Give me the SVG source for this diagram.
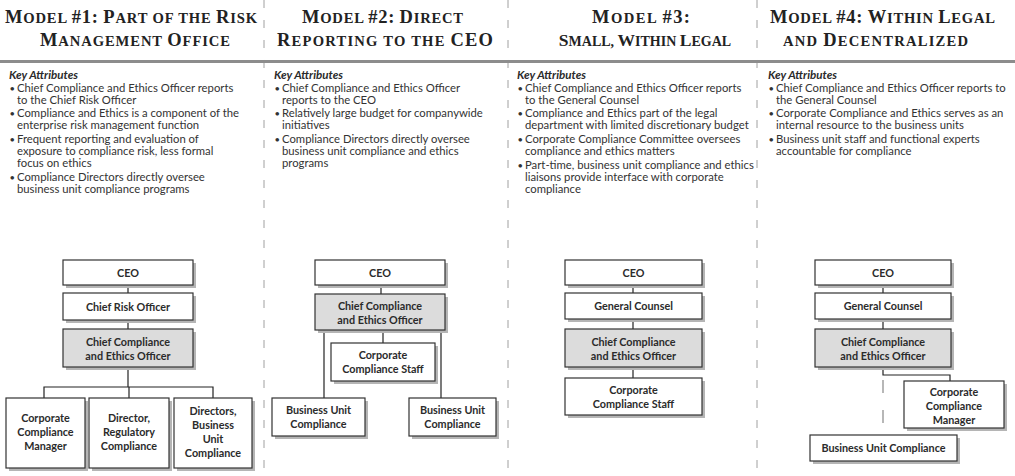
<svg xmlns="http://www.w3.org/2000/svg" width="1015" height="476" viewBox="0 0 1015 476">
<style>
.hdr{font-family:"Liberation Serif",serif;font-weight:bold;font-size:14.6px;fill:#222;text-anchor:middle}
.B{font-size:18.5px}
.key{font-family:Lato,"Liberation Sans",sans-serif;font-weight:bold;font-style:italic;font-size:11.6px;fill:#2b2b2b}
.txt{font-family:Lato,"Liberation Sans",sans-serif;font-size:11.3px;fill:#333}
.bul{font-family:Lato,"Liberation Sans",sans-serif;font-size:9.5px;fill:#333}
.box{fill:#fff;stroke:#333;stroke-width:1.2}
.gbox{fill:#dcdcdc;stroke:#333;stroke-width:1.2}
.sh{fill:#b5b5b5}
.bt{font-family:Lato,"Liberation Sans",sans-serif;font-weight:bold;font-size:10.8px;fill:#2b2b2b;text-anchor:middle}
.sep{stroke:#a0a0a0;stroke-width:1;stroke-dasharray:8 12}
.ln{stroke:#222;stroke-width:1.2;fill:none}
.dl{stroke:#888;stroke-width:1.2;stroke-dasharray:13 17;fill:none}
</style>
<rect width="1015" height="476" fill="#fff"/>
<g id="separators">
<line class="sep" x1="264" y1="0" x2="264" y2="476"/>
<line class="sep" x1="508" y1="0" x2="508" y2="476"/>
<line class="sep" x1="757" y1="0" x2="757" y2="476"/>
</g>
<rect id="bar" x="0" y="60" width="1015" height="3" fill="#8c8c8c"/>
<g id="headers">
<text class="hdr" x="131" y="23" textLength="252" lengthAdjust="spacing"><tspan class="B">M</tspan>ODEL <tspan class="B">#1:</tspan> <tspan class="B">P</tspan>ART OF THE <tspan class="B">R</tspan>ISK</text>
<text class="hdr" x="135" y="46" textLength="190" lengthAdjust="spacing"><tspan class="B">M</tspan>ANAGEMENT <tspan class="B">O</tspan>FFICE</text>
<text class="hdr" x="382.5" y="23" textLength="161" lengthAdjust="spacing"><tspan class="B">M</tspan>ODEL <tspan class="B">#2:</tspan> <tspan class="B">D</tspan>IRECT</text>
<text class="hdr" x="385" y="46" textLength="216" lengthAdjust="spacing"><tspan class="B">R</tspan>EPORTING TO THE <tspan class="B">CEO</tspan></text>
<text class="hdr" x="641" y="23" textLength="98" lengthAdjust="spacing"><tspan class="B">M</tspan>ODEL <tspan class="B">#3:</tspan></text>
<text class="hdr" x="645" y="46" style="font-size:14px"><tspan class="B" style="font-size:17.5px">S</tspan>MALL, <tspan class="B" style="font-size:17.5px">W</tspan>ITHIN <tspan class="B" style="font-size:17.5px">L</tspan>EGAL</text>
<text class="hdr" x="882.5" y="23" textLength="225" lengthAdjust="spacing"><tspan class="B">M</tspan>ODEL <tspan class="B">#4:</tspan> <tspan class="B">W</tspan>ITHIN <tspan class="B">L</tspan>EGAL</text>
<text class="hdr" x="875.5" y="46" textLength="185" lengthAdjust="spacing">AND <tspan class="B">D</tspan>ECENTRALIZED</text>
</g>
<g id="attributes1">
<text class="key" x="9" y="79">Key Attributes</text>
<text class="bul" x="9.5" y="92">•</text><text class="txt" x="17" y="92">Chief Compliance and Ethics Officer reports</text>
<text class="txt" x="17" y="104">to the Chief Risk Officer</text>
<text class="bul" x="9.5" y="117">•</text><text class="txt" x="17" y="117">Compliance and Ethics is a component of the</text>
<text class="txt" x="17" y="129">enterprise risk management function</text>
<text class="bul" x="9.5" y="143">•</text><text class="txt" x="17" y="143">Frequent reporting and evaluation of</text>
<text class="txt" x="17" y="155">exposure to compliance risk, less formal</text>
<text class="txt" x="17" y="167">focus on ethics</text>
<text class="bul" x="9.5" y="181">•</text><text class="txt" x="17" y="181">Compliance Directors directly oversee</text>
<text class="txt" x="17" y="193">business unit compliance programs</text>
</g>
<g id="attributes2">
<text class="key" x="274" y="79">Key Attributes</text>
<text class="bul" x="274.5" y="92">•</text><text class="txt" x="282" y="92">Chief Compliance and Ethics Officer</text>
<text class="txt" x="282" y="104">reports to the CEO</text>
<text class="bul" x="274.5" y="117">•</text><text class="txt" x="282" y="117">Relatively large budget for companywide</text>
<text class="txt" x="282" y="129">initiatives</text>
<text class="bul" x="274.5" y="143">•</text><text class="txt" x="282" y="143">Compliance Directors directly oversee</text>
<text class="txt" x="282" y="155">business unit compliance and ethics</text>
<text class="txt" x="282" y="167">programs</text>
</g>
<g id="attributes3">
<text class="key" x="517" y="79">Key Attributes</text>
<text class="bul" x="517.5" y="92">•</text><text class="txt" x="525" y="92">Chief Compliance and Ethics Officer reports</text>
<text class="txt" x="525" y="104">to the General Counsel</text>
<text class="bul" x="517.5" y="117">•</text><text class="txt" x="525" y="117">Compliance and Ethics part of the legal</text>
<text class="txt" x="525" y="129">department with limited discretionary budget</text>
<text class="bul" x="517.5" y="143">•</text><text class="txt" x="525" y="143">Corporate Compliance Committee oversees</text>
<text class="txt" x="525" y="155">compliance and ethics matters</text>
<text class="bul" x="517.5" y="169">•</text><text class="txt" x="525" y="169">Part-time, business unit compliance and ethics</text>
<text class="txt" x="525" y="181">liaisons provide interface with corporate</text>
<text class="txt" x="525" y="193">compliance</text>
</g>
<g id="attributes4">
<text class="key" x="768" y="79">Key Attributes</text>
<text class="bul" x="768.5" y="92">•</text><text class="txt" x="776" y="92">Chief Compliance and Ethics Officer reports to</text>
<text class="txt" x="776" y="104">the General Counsel</text>
<text class="bul" x="768.5" y="117">•</text><text class="txt" x="776" y="117">Corporate Compliance and Ethics serves as an</text>
<text class="txt" x="776" y="129">internal resource to the business units</text>
<text class="bul" x="768.5" y="143">•</text><text class="txt" x="776" y="143">Business unit staff and functional experts</text>
<text class="txt" x="776" y="155">accountable for compliance</text>
</g>
<g id="connectors">
<line class="ln" x1="128" y1="285" x2="128" y2="293"/>
<line class="ln" x1="128" y1="320" x2="128" y2="329"/>
<line class="ln" x1="128" y1="367" x2="128" y2="387"/>
<polyline class="ln" points="44,398 44,387 213,387 213,398"/>
<line class="ln" x1="129" y1="387" x2="129" y2="398"/>
<line class="ln" x1="381" y1="285" x2="381" y2="294"/>
<line class="ln" x1="383" y1="330" x2="383" y2="343"/>
<line class="ln" x1="324" y1="330" x2="324" y2="398"/>
<line class="ln" x1="441" y1="330" x2="441" y2="398"/>
<line class="ln" x1="633" y1="285" x2="633" y2="293"/>
<line class="ln" x1="633" y1="319" x2="633" y2="329"/>
<line class="ln" x1="633" y1="367" x2="633" y2="378"/>
<line class="ln" x1="883" y1="285" x2="883" y2="293"/>
<line class="ln" x1="883" y1="319" x2="883" y2="329"/>
<polyline class="ln" points="883,367 883,375 950,375 950,381"/>
<line class="dl" x1="883" y1="380" x2="883" y2="435"/>
</g>
<g id="m1-ceo"><rect class="sh" x="66" y="263" width="130" height="25"/><rect class="box" x="63" y="260" width="130" height="25"/><text class="bt" x="128" y="276.5">CEO</text></g>
<g id="m1-cro"><rect class="sh" x="66" y="296" width="130" height="27"/><rect class="box" x="63" y="293" width="130" height="27"/><text class="bt" x="128" y="310.5">Chief Risk Officer</text></g>
<g id="m1-cceo"><rect class="sh" x="66" y="332" width="130" height="38"/><rect class="gbox" x="63" y="329" width="130" height="38"/><text class="bt" x="128" y="345.5">Chief Compliance</text><text class="bt" x="128" y="359.5">and Ethics Officer</text></g>
<g id="m1-ccm"><rect class="sh" x="9" y="401" width="79" height="70"/><rect class="box" x="6" y="398" width="79" height="70"/><text class="bt" x="45.5" y="422">Corporate</text><text class="bt" x="45.5" y="436">Compliance</text><text class="bt" x="45.5" y="450">Manager</text></g>
<g id="m1-drc"><rect class="sh" x="92" y="401" width="80" height="70"/><rect class="box" x="89" y="398" width="80" height="70"/><text class="bt" x="129" y="422">Director,</text><text class="bt" x="129" y="436">Regulatory</text><text class="bt" x="129" y="450">Compliance</text></g>
<g id="m1-dbuc"><rect class="sh" x="177" y="401" width="78" height="70"/><rect class="box" x="174" y="398" width="78" height="70"/><text class="bt" x="213" y="415">Directors,</text><text class="bt" x="213" y="429">Business</text><text class="bt" x="213" y="443">Unit</text><text class="bt" x="213" y="457">Compliance</text></g>
<g id="m2-ceo"><rect class="sh" x="318" y="263" width="130" height="25"/><rect class="box" x="315" y="260" width="130" height="25"/><text class="bt" x="380" y="276.5">CEO</text></g>
<g id="m2-cceo"><rect class="sh" x="318" y="297" width="130" height="36"/><rect class="gbox" x="315" y="294" width="130" height="36"/><text class="bt" x="380" y="309.5">Chief Compliance</text><text class="bt" x="380" y="323.5">and Ethics Officer</text></g>
<g id="m2-ccs"><rect class="sh" x="334" y="346" width="104" height="38"/><rect class="box" x="331" y="343" width="104" height="38"/><text class="bt" x="383" y="359">Corporate</text><text class="bt" x="383" y="373">Compliance Staff</text></g>
<g id="m2-buc1"><rect class="sh" x="275" y="401" width="93" height="38"/><rect class="box" x="272" y="398" width="93" height="38"/><text class="bt" x="318.5" y="414">Business Unit</text><text class="bt" x="318.5" y="428">Compliance</text></g>
<g id="m2-buc2"><rect class="sh" x="412" y="401" width="87" height="38"/><rect class="box" x="409" y="398" width="87" height="38"/><text class="bt" x="452.5" y="414">Business Unit</text><text class="bt" x="452.5" y="428">Compliance</text></g>
<g id="m3-ceo"><rect class="sh" x="568" y="263" width="137" height="25"/><rect class="box" x="565" y="260" width="137" height="25"/><text class="bt" x="633.5" y="276.5">CEO</text></g>
<g id="m3-gc"><rect class="sh" x="568" y="296" width="137" height="26"/><rect class="box" x="565" y="293" width="137" height="26"/><text class="bt" x="633.5" y="310">General Counsel</text></g>
<g id="m3-cceo"><rect class="sh" x="568" y="332" width="137" height="38"/><rect class="gbox" x="565" y="329" width="137" height="38"/><text class="bt" x="633.5" y="345.5">Chief Compliance</text><text class="bt" x="633.5" y="359.5">and Ethics Officer</text></g>
<g id="m3-ccs"><rect class="sh" x="568" y="381" width="137" height="37"/><rect class="box" x="565" y="378" width="137" height="37"/><text class="bt" x="633.5" y="394">Corporate</text><text class="bt" x="633.5" y="408">Compliance Staff</text></g>
<g id="m4-ceo"><rect class="sh" x="818" y="263" width="136" height="25"/><rect class="box" x="815" y="260" width="136" height="25"/><text class="bt" x="883" y="276.5">CEO</text></g>
<g id="m4-gc"><rect class="sh" x="818" y="296" width="136" height="26"/><rect class="box" x="815" y="293" width="136" height="26"/><text class="bt" x="883" y="310">General Counsel</text></g>
<g id="m4-cceo"><rect class="sh" x="818" y="332" width="136" height="38"/><rect class="gbox" x="815" y="329" width="136" height="38"/><text class="bt" x="883" y="345.5">Chief Compliance</text><text class="bt" x="883" y="359.5">and Ethics Officer</text></g>
<g id="m4-ccm"><rect class="sh" x="907" y="384" width="100" height="47"/><rect class="box" x="904" y="381" width="100" height="47"/><text class="bt" x="954" y="396">Corporate</text><text class="bt" x="954" y="410">Compliance</text><text class="bt" x="954" y="424">Manager</text></g>
<g id="m4-buc"><rect class="sh" x="813" y="438" width="147" height="26"/><rect class="box" x="810" y="435" width="147" height="26"/><text class="bt" x="883.5" y="452">Business Unit Compliance</text></g>
</svg>
